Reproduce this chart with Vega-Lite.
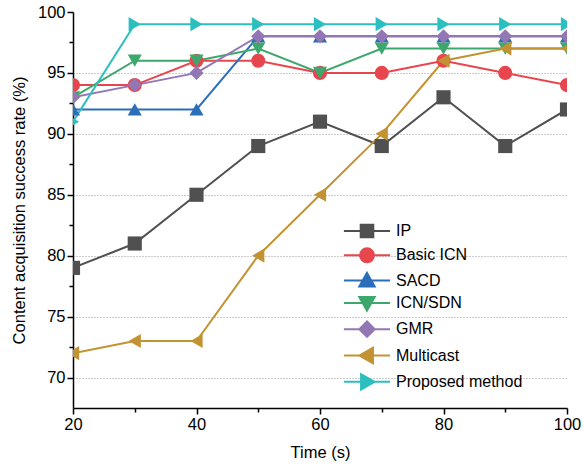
{
  "$schema": "https://vega.github.io/schema/vega-lite/v6.json",
  "width": 494,
  "height": 396,
  "autosize": {"type": "none"},
  "padding": {"left": 73, "top": 12, "right": 17, "bottom": 59},
  "background": "white",
  "data": {"values": [
    {"t": 20, "v": 79, "s": "IP"}, {"t": 30, "v": 81, "s": "IP"}, {"t": 40, "v": 85, "s": "IP"}, {"t": 50, "v": 89, "s": "IP"}, {"t": 60, "v": 91, "s": "IP"}, {"t": 70, "v": 89, "s": "IP"}, {"t": 80, "v": 93, "s": "IP"}, {"t": 90, "v": 89, "s": "IP"}, {"t": 100, "v": 92, "s": "IP"},
    {"t": 20, "v": 94, "s": "Basic ICN"}, {"t": 30, "v": 94, "s": "Basic ICN"}, {"t": 40, "v": 96, "s": "Basic ICN"}, {"t": 50, "v": 96, "s": "Basic ICN"}, {"t": 60, "v": 95, "s": "Basic ICN"}, {"t": 70, "v": 95, "s": "Basic ICN"}, {"t": 80, "v": 96, "s": "Basic ICN"}, {"t": 90, "v": 95, "s": "Basic ICN"}, {"t": 100, "v": 94, "s": "Basic ICN"},
    {"t": 20, "v": 92, "s": "SACD"}, {"t": 30, "v": 92, "s": "SACD"}, {"t": 40, "v": 92, "s": "SACD"}, {"t": 50, "v": 98, "s": "SACD"}, {"t": 60, "v": 98, "s": "SACD"}, {"t": 70, "v": 98, "s": "SACD"}, {"t": 80, "v": 98, "s": "SACD"}, {"t": 90, "v": 98, "s": "SACD"}, {"t": 100, "v": 98, "s": "SACD"},
    {"t": 20, "v": 93, "s": "ICN/SDN"}, {"t": 30, "v": 96, "s": "ICN/SDN"}, {"t": 40, "v": 96, "s": "ICN/SDN"}, {"t": 50, "v": 97, "s": "ICN/SDN"}, {"t": 60, "v": 95, "s": "ICN/SDN"}, {"t": 70, "v": 97, "s": "ICN/SDN"}, {"t": 80, "v": 97, "s": "ICN/SDN"}, {"t": 90, "v": 97, "s": "ICN/SDN"}, {"t": 100, "v": 97, "s": "ICN/SDN"},
    {"t": 20, "v": 93, "s": "GMR"}, {"t": 30, "v": 94, "s": "GMR"}, {"t": 40, "v": 95, "s": "GMR"}, {"t": 50, "v": 98, "s": "GMR"}, {"t": 60, "v": 98, "s": "GMR"}, {"t": 70, "v": 98, "s": "GMR"}, {"t": 80, "v": 98, "s": "GMR"}, {"t": 90, "v": 98, "s": "GMR"}, {"t": 100, "v": 98, "s": "GMR"},
    {"t": 20, "v": 72, "s": "Multicast"}, {"t": 30, "v": 73, "s": "Multicast"}, {"t": 40, "v": 73, "s": "Multicast"}, {"t": 50, "v": 80, "s": "Multicast"}, {"t": 60, "v": 85, "s": "Multicast"}, {"t": 70, "v": 90, "s": "Multicast"}, {"t": 80, "v": 96, "s": "Multicast"}, {"t": 90, "v": 97, "s": "Multicast"}, {"t": 100, "v": 97, "s": "Multicast"},
    {"t": 20, "v": 91, "s": "Proposed method"}, {"t": 30, "v": 99, "s": "Proposed method"}, {"t": 40, "v": 99, "s": "Proposed method"}, {"t": 50, "v": 99, "s": "Proposed method"}, {"t": 60, "v": 99, "s": "Proposed method"}, {"t": 70, "v": 99, "s": "Proposed method"}, {"t": 80, "v": 99, "s": "Proposed method"}, {"t": 90, "v": 99, "s": "Proposed method"}, {"t": 100, "v": 99, "s": "Proposed method"}
  ]},
  "encoding": {
    "x": {
      "field": "t", "type": "quantitative", "title": "Time (s)",
      "scale": {"domain": [20, 100], "nice": false, "zero": false},
      "axis": {
        "values": [20, 30, 40, 50, 60, 70, 80, 90, 100],
        "labelExpr": "datum.value % 20 === 0 ? datum.label : ''",
        "tickSize": {"condition": {"test": "datum.value % 20 !== 0", "value": 4}, "value": 6},
        "grid": false, "labelFlush": false, "titlePadding": 12
      }
    },
    "y": {
      "field": "v", "type": "quantitative", "title": "Content acquisition success rate (%)",
      "scale": {"domain": [67.5, 100], "nice": false, "zero": false},
      "axis": {
        "values": [70, 72.5, 75, 77.5, 80, 82.5, 85, 87.5, 90, 92.5, 95, 97.5, 100],
        "labelExpr": "datum.value % 5 === 0 ? datum.label : ''",
        "tickSize": {"condition": {"test": "datum.value % 5 !== 0", "value": 4}, "value": 6},
        "grid": true,
        "gridOpacity": {"condition": {"test": "datum.value % 5 !== 0 || datum.value === 100", "value": 0}, "value": 1},
        "titlePadding": 10
      }
    }
  },
  "layer": [
    {
      "mark": {"type": "line", "strokeWidth": 2, "clip": true},
      "encoding": {
        "color": {"field": "s", "type": "nominal", "legend": null,
          "scale": {"domain": ["IP", "Basic ICN", "SACD", "ICN/SDN", "GMR", "Multicast", "Proposed method"],
                    "range": ["#505050", "#E8464E", "#2B6FBA", "#3EA76D", "#9277B4", "#C39333", "#2CBFBF"]}},
        "order": {"field": "t"}
      }
    },
    {
      "mark": {"type": "point", "filled": true, "size": 200, "opacity": 1, "clip": true},
      "encoding": {
        "color": {"field": "s", "type": "nominal", "legend": null,
          "scale": {"domain": ["IP", "Basic ICN", "SACD", "ICN/SDN", "GMR", "Multicast", "Proposed method"],
                    "range": ["#505050", "#E8464E", "#2B6FBA", "#3EA76D", "#9277B4", "#C39333", "#2CBFBF"]}},
        "shape": {"field": "s", "type": "nominal", "legend": null,
          "scale": {"domain": ["IP", "Basic ICN", "SACD", "ICN/SDN", "GMR", "Multicast", "Proposed method"],
                    "range": ["square", "circle", "triangle-up", "triangle-down", "diamond", "triangle-left", "triangle-right"]}}
      }
    },
    {
      "transform": [{"filter": "datum.v > 1000"}],
      "mark": {"type": "point", "filled": true, "strokeWidth": 2, "opacity": 1},
      "encoding": {
        "fill": {"field": "s", "type": "nominal",
          "scale": {"domain": ["IP", "Basic ICN", "SACD", "ICN/SDN", "GMR", "Multicast", "Proposed method"],
                    "range": ["#505050", "#E8464E", "#2B6FBA", "#3EA76D", "#9277B4", "#C39333", "#2CBFBF"]}},
        "stroke": {"field": "s", "type": "nominal",
          "scale": {"domain": ["IP", "Basic ICN", "SACD", "ICN/SDN", "GMR", "Multicast", "Proposed method"],
                    "range": ["#505050", "#E8464E", "#2B6FBA", "#3EA76D", "#9277B4", "#C39333", "#2CBFBF"]}},
        "shape": {"field": "s", "type": "nominal",
          "scale": {"domain": ["IP", "Basic ICN", "SACD", "ICN/SDN", "GMR", "Multicast", "Proposed method"],
                    "range": [
                      "M-3.3,0H3.3M-0.9,-0.9H0.9V0.9H-0.9Z",
                      "M-3.3,0H3.3M-1,0A1,1 0 1,0 1,0A1,1 0 1,0 -1,0Z",
                      "M-3.3,0H3.3M0,-1.1L1.1,0.85H-1.1Z",
                      "M-3.3,0H3.3M0,1.1L1.1,-0.85H-1.1Z",
                      "M-3.3,0H3.3M0,-1.1L1.1,0L0,1.1L-1.1,0Z",
                      "M-3.3,0H3.3M-1.1,0L0.85,-1.1V1.1Z",
                      "M-3.3,0H3.3M1.1,0L-0.85,-1.1V1.1Z"
                    ]}}
      }
    }
  ],
  "resolve": {"scale": {"shape": "independent", "fill": "independent", "stroke": "independent"}},
  "config": {
    "view": {"stroke": null},
    "font": "Liberation Sans",
    "axis": {
      "domainColor": "black", "domainWidth": 1.5, "tickColor": "black", "tickWidth": 1.5,
      "labelFont": "Liberation Sans", "labelFontSize": 16.5, "labelColor": "black",
      "titleFont": "Liberation Sans", "titleFontSize": 16.5, "titleFontWeight": "normal", "titleColor": "black",
      "gridColor": "#999999", "gridDash": [1, 2], "gridWidth": 1
    },
    "legend": {
      "orient": "none", "legendX": 286, "legendY": 211, "title": null,
      "symbolSize": 196, "symbolStrokeWidth": 2, "labelOffset": 21, "rowPadding": 2.3,
      "labelFont": "Liberation Sans", "labelFontSize": 16, "labelColor": "black",
      "padding": 0
    }
  }
}
